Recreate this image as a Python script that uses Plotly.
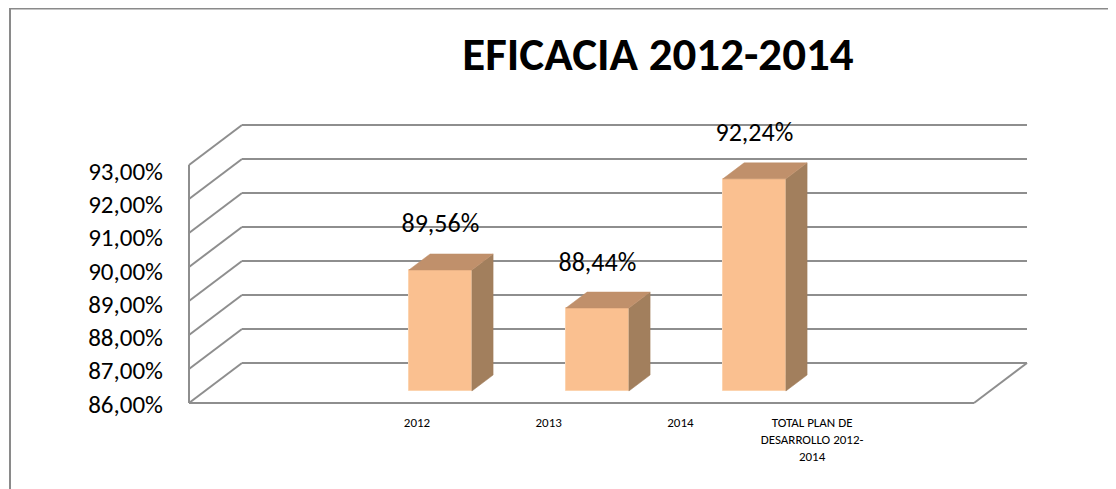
import plotly.graph_objects as go

# ---------------- data ----------------
title_text = "EFICACIA 2012-2014"
categories = ["2012", "2013", "2014", "TOTAL PLAN DE<br>DESARROLLO 2012-<br>2014"]
values = [89.56, 88.44, 92.24]          # TOTAL has no value
y_ticks = [86, 87, 88, 89, 90, 91, 92, 93]

# ---------------- layout constants ----------------
OFF = 8               # page body margin
W, H = 1116 - OFF, 489 - OFF
PX_X = 157.0          # px per category (bar plane)
PX_Y = 34.0           # px per percentage point (front plane)
X0_PX = 424.5 - OFF   # pixel of category 0 on the front plane
Y0_PX = 403.0 - OFF   # pixel of the 86% floor on the front plane
DX = 53.0 / PX_X      # full depth offset in x units
DY = 40.0 / PX_Y      # full depth offset in y units
FL, FR = -1.5, 3.5    # floor extent (x units)
BAR_W = 63.0 / PX_X
D0, D1 = 0.3, 0.7     # bar depth span
BASE = y_ticks[0]
YMAX = y_ticks[-1]

FRONT = "#FAC090"
TOP = "#C0906B"
SIDE = "#A27F5D"
GRID = "#8E8E8E"
FONT = "Calibri, Carlito, Lato, sans-serif"

def pct(v):
    return f"{v:.2f}".replace(".", ",") + "%"

fig = go.Figure()

# bars: side, top faces (polygons from values), front face (bar)
for i, v in enumerate(values):
    xc = i + D0 * DX
    xl, xr = xc - BAR_W / 2, xc + BAR_W / 2
    b = BASE + D0 * DY
    t = v + D0 * DY
    ddx, ddy = (D1 - D0) * DX, (D1 - D0) * DY
    fig.add_trace(go.Scatter(
        x=[xr, xr, xr + ddx, xr + ddx, xr], y=[b, t, t + ddy, b + ddy, b],
        fill="toself", fillcolor=SIDE, mode="lines", line=dict(color=SIDE, width=0.5),
        hoverinfo="skip", showlegend=False))
    fig.add_trace(go.Scatter(
        x=[xl, xr, xr + ddx, xl + ddx, xl], y=[t, t, t + ddy, t + ddy, t],
        fill="toself", fillcolor=TOP, mode="lines", line=dict(color=TOP, width=0.5),
        hoverinfo="skip", showlegend=False))

fig.add_trace(go.Bar(
    x=[i + D0 * DX for i in range(len(values))],
    y=[v - BASE for v in values],
    base=BASE + D0 * DY,
    width=BAR_W,
    marker=dict(color=FRONT, line=dict(color="#FCD3AE", width=1)),
    hovertext=[pct(v) for v in values], hoverinfo="text",
    showlegend=False))

# data labels
fig.add_trace(go.Scatter(
    x=[i + D0 * DX for i in range(len(values))],
    y=[v + D0 * DY + 44.0 / PX_Y for v in values],
    mode="text", text=[pct(v) for v in values],
    textposition="middle center",
    textfont=dict(family=FONT, size=26, color="#000000"),
    hoverinfo="skip", showlegend=False))

# dummy trace for label axes
fig.add_trace(go.Scatter(x=[0], y=[BASE], xaxis="x2", yaxis="y2", mode="markers",
                         marker=dict(opacity=0), hoverinfo="skip", showlegend=False))

# walls / gridlines
shapes = []
def seg(x0, y0, x1, y1):
    shapes.append(dict(type="line", xref="x", yref="y", x0=x0, y0=y0, x1=x1, y1=y1,
                       line=dict(color=GRID, width=2), layer="below"))
seg(FL, BASE, FL, YMAX)
for v in y_ticks:
    seg(FL, v, FL + DX, v + DY)
    seg(FL + DX, v + DY, FR + DX, v + DY)
seg(FL, BASE, FR, BASE)
seg(FR, BASE, FR + DX, BASE + DY)

# outer frame
shapes.append(dict(type="rect", xref="paper", yref="paper",
                   x0=(10 - OFF) / W, x1=(1113 - OFF) / W, y0=-0.2, y1=1 - 0.5 / H,
                   line=dict(color="#8A8A8A", width=2), layer="below"))

LX0, LPX = 417.0 - OFF, 131.7        # category label placement
TY0, TPX = 404.0 - OFF, 33.3         # value label placement

fig.update_layout(
    width=W, height=H,
    margin=dict(l=0, r=0, t=0, b=0, autoexpand=False),
    paper_bgcolor="white", plot_bgcolor="rgba(0,0,0,0)",
    title=dict(text=f"<b>{title_text}</b>", x=(658 - OFF) / W, y=1 - (54 - OFF) / H,
               xanchor="center", yanchor="middle",
               font=dict(family=FONT, size=47, color="#000000")),
    xaxis=dict(range=[-X0_PX / PX_X, (W - X0_PX) / PX_X], visible=False, fixedrange=True),
    yaxis=dict(range=[BASE - (H - Y0_PX) / PX_Y, BASE + Y0_PX / PX_Y], visible=False,
               fixedrange=True),
    xaxis2=dict(range=[-LX0 / LPX, (W - LX0) / LPX], overlaying="x", anchor="free",
                position=1 - (413 - OFF) / H, side="bottom",
                tickvals=list(range(len(categories))), ticktext=categories,
                showgrid=False, zeroline=False, showline=False, ticks="",
                tickfont=dict(family=FONT, size=13, color="#000000")),
    yaxis2=dict(range=[BASE - (H - TY0) / TPX, BASE + TY0 / TPX], overlaying="y",
                anchor="free", position=(163 - OFF) / W, side="left",
                tickvals=y_ticks, ticktext=[pct(v) for v in y_ticks],
                showgrid=False, zeroline=False, showline=False, ticks="",
                tickfont=dict(family=FONT, size=25, color="#000000")),
    shapes=shapes,
    bargap=0,
)

fig.write_html("out.html", config={"displayModeBar": False})
